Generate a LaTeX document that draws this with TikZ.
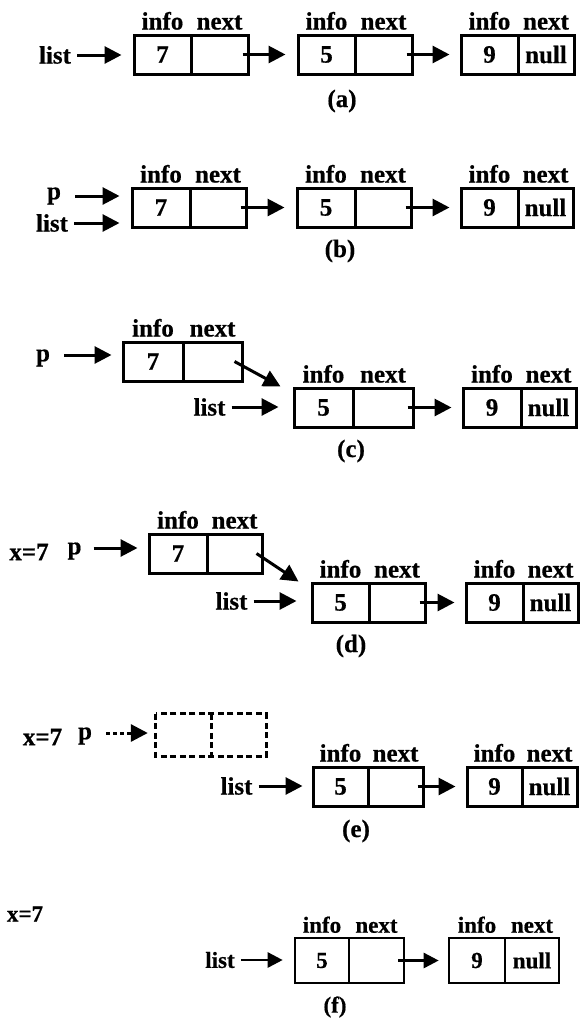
\documentclass[tikz,border=0pt]{standalone}
\usepackage{fontspec}
\setmainfont{Liberation Serif}[BoldFeatures={FakeBold=0.6}]
\usetikzlibrary{arrows.meta}

% one list node drawn as two adjacent cells
% #1 name, #2 left x, #3 divider x, #4 right x, #5 top y, #6 bottom y, #7 info value, #8 next value, #9 cell style
\newcommand\cellpair[9]{%
  \node[#9, minimum width={(#3-#2)*1pt}, minimum height={(#6-#5)*1pt}] (#1i) at ({(#2+#3)/2},{(#5+#6)/2}) {#7};
  \node[#9, minimum width={(#4-#3)*1pt}, minimum height={(#6-#5)*1pt}] (#1n) at ({(#3+#4)/2},{(#5+#6)/2}) {#8};
}
% field names above the two cells of a list node
\newcommand\fieldnames[2]{%
  \node[#2, anchor=base, yshift=4pt] (#1il) at (#1i.north) {info};
  \node[#2, anchor=base, yshift=4pt] (#1nl) at (#1n.north) {next};
}

\begin{document}
\begin{tikzpicture}[x=1pt,y=-1pt,
  txt/.style={font=\fontsize{25}{28}\selectfont\bfseries, inner sep=0pt},
  ftxt/.style={font=\fontsize{23}{26}\selectfont\bfseries, inner sep=0pt},
  cell/.style={draw, line width=3pt, inner sep=0pt, txt},
  ghost/.style={inner sep=0pt},
  dashline/.style={line width=3pt, dash pattern=on 6pt off 3.5pt},
  fcell/.style={draw, line width=2.6pt, inner sep=0pt, ftxt},
  ptr/.style={line width=3pt, -{Triangle[length=17pt,width=17pt]}},
  dptr/.style={ptr, dash pattern=on 4pt off 3pt},
  fptr/.style={line width=2.6pt, -{Triangle[length=15pt,width=15pt]}},
]
\useasboundingbox (0,0) rectangle (582,1023);

% ---------------- (a) ----------------
\cellpair{a1}{134}{191}{248}{35}{74}{7}{}{cell}
\cellpair{a2}{298}{355}{412}{35}{74}{5}{}{cell}
\cellpair{a3}{461}{518}{574}{35}{74}{9}{null}{cell}
\fieldnames{a1}{txt}\fieldnames{a2}{txt}\fieldnames{a3}{txt}
\node[txt] (alist) at (55,55) {list};
\draw[ptr, shorten <=6pt, shorten >=11pt] (alist.east) -- (alist.east -| a1i.west);
\draw[ptr, shorten >=11pt] ([xshift=-7pt]a1n.east) -- (a2i.west);
\draw[ptr, shorten >=10pt] ([xshift=-7pt]a2n.east) -- (a3i.west);
\node[txt] (acap) at (342,101) {(a)};

% ---------------- (b) ----------------
\cellpair{b1}{132}{190}{246}{188}{227}{7}{}{cell}
\cellpair{b2}{297}{355}{411}{188}{227}{5}{}{cell}
\cellpair{b3}{461}{518}{573}{188}{227}{9}{null}{cell}
\fieldnames{b1}{txt}\fieldnames{b2}{txt}\fieldnames{b3}{txt}
\node[txt] (bp) at (54,196) {p};
\node[txt] (blist) at (52,223) {list};
\draw[ptr, shorten <=14pt, shorten >=11pt] (bp.east) -- (bp.east -| b1i.west);
\draw[ptr, shorten <=6pt, shorten >=11pt] (blist.east) -- (blist.east -| b1i.west);
\draw[ptr, shorten >=11pt] ([xshift=-7pt]b1n.east) -- (b2i.west);
\draw[ptr, shorten >=10pt] ([xshift=-7pt]b2n.east) -- (b3i.west);
\node[txt] (bcap) at (340,251) {(b)};

% ---------------- (c) ----------------
\cellpair{c1}{123}{183}{242}{342}{381}{7}{}{cell}
\cellpair{c2}{294}{353}{413}{388}{427}{5}{}{cell}
\cellpair{c3}{463}{521}{576}{388}{427}{9}{null}{cell}
\fieldnames{c1}{txt}\fieldnames{c2}{txt}\fieldnames{c3}{txt}
\node[txt] (cp) at (43,358) {p};
\node[txt] (clist) at (209.5,407) {list};
\draw[ptr, shorten <=14pt, shorten >=10pt] ([yshift=3pt]cp.east) -- ([yshift=3pt]cp.east -| c1i.west);
\draw[ptr, shorten <=6pt, shorten >=14pt] (clist.east) -- (clist.east -| c2i.west);
\draw[ptr] ([xshift=-9pt]c1n.east) -- ([xshift=-12pt]c2i.north west);
\draw[ptr, shorten >=10pt] ([xshift=-7pt]c2n.east) -- (c3i.west);
\node[txt] (ccap) at (351,451) {(c)};

% ---------------- (d) ----------------
\node[txt] (dx) at (29,552) {x=7};
\cellpair{d1}{149}{207}{262}{534}{573}{7}{}{cell}
\cellpair{d2}{312}{369}{425}{583}{622}{5}{}{cell}
\cellpair{d3}{466}{523}{578}{583}{622}{9}{null}{cell}
\fieldnames{d1}{txt}\fieldnames{d2}{txt}\fieldnames{d3}{txt}
\node[txt] (dp) at (74.5,551) {p};
\node[txt] (dlist) at (231.5,601) {list};
\draw[ptr, shorten <=12pt, shorten >=10pt] ([yshift=3pt]dp.east) -- ([yshift=3pt]dp.east -| d1i.west);
\draw[ptr, shorten <=6pt, shorten >=14pt] (dlist.east) -- (dlist.east -| d2i.west);
\draw[ptr] ([xshift=-7pt]d1n.east) -- ([xshift=-12pt]d2i.north west);
\draw[ptr, shorten >=10pt] ([xshift=-7pt]d2n.east) -- (d3i.west);
\node[txt] (dcap) at (351,646) {(d)};

% ---------------- (e) ----------------
\node[txt] (ex) at (42.5,737) {x=7};
% the freed node: dashed outline, one dashed divider
\cellpair{e1}{156}{211}{266}{714}{756}{}{}{ghost}
\draw[dashline] (e1i.north west) rectangle (e1n.south east);
\draw[dashline] (e1i.north east) -- (e1i.south east);
\cellpair{e2}{313}{368}{423}{767}{806}{5}{}{cell}
\cellpair{e3}{467}{522}{577}{767}{806}{9}{null}{cell}
\fieldnames{e2}{txt}\fieldnames{e3}{txt}
\node[txt] (ep) at (85,736) {p};
\node[txt] (elist) at (236.5,786) {list};
\draw[dptr, shorten <=14pt, shorten >=8pt] ([yshift=3pt]ep.east) -- ([yshift=3pt]ep.east -| e1i.west);
\draw[ptr, shorten <=6pt, shorten >=9pt] (elist.east) -- (elist.east -| e2i.west);
\draw[ptr, shorten >=10pt] ([xshift=-7pt]e2n.east) -- (e3i.west);
\node[txt] (ecap) at (356,831) {(e)};

% ---------------- (f) ----------------
\node[ftxt] (fx) at (25,914) {x=7};
\cellpair{f2}{295}{349}{404}{938}{983}{5}{}{fcell}
\cellpair{f3}{449}{505}{559}{938}{983}{9}{null}{fcell}
\fieldnames{f2}{ftxt}\fieldnames{f3}{ftxt}
\node[ftxt] (flist) at (220,960) {list};
\draw[fptr, shorten <=6pt, shorten >=11pt] (flist.east) -- (flist.east -| f2i.west);
\draw[fptr, shorten >=9pt] ([xshift=-7pt]f2n.east) -- (f3i.west);
\node[ftxt] (fcap) at (335,1007) {(f)};
\end{tikzpicture}
\end{document}
